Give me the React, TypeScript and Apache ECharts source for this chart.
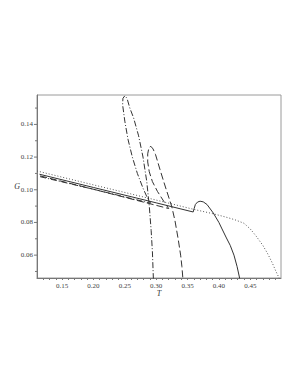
import React, { useEffect, useRef } from "react";
import * as echarts from "echarts";

// Dotted curve
const dottedT = [0.110, 0.200, 0.300, 0.360, 0.390, 0.410, 0.425, 0.440, 0.450, 0.455, 0.460, 0.470, 0.478, 0.485, 0.491, 0.496, 0.499];
const dottedG = [0.1115, 0.1030, 0.0937, 0.0880, 0.0854, 0.0834, 0.0817, 0.0795, 0.0760, 0.0737, 0.0713, 0.0660, 0.0607, 0.0553, 0.0500, 0.0460, 0.0440];

// Solid curve
const solidT = [0.114, 0.200, 0.300, 0.359, 0.3605, 0.3625, 0.366, 0.370, 0.375, 0.381, 0.391, 0.400, 0.405, 0.412, 0.418, 0.424, 0.429, 0.433, 0.434];
const solidG = [0.1095, 0.1014, 0.0920, 0.0864, 0.0885, 0.0910, 0.0925, 0.0930, 0.0926, 0.0910, 0.0858, 0.0800, 0.0760, 0.0705, 0.0660, 0.0600, 0.0530, 0.0460, 0.0440];

// Dashed curve
const dashedT = [0.115, 0.200, 0.320, 0.312, 0.302, 0.294, 0.289, 0.2865, 0.2865, 0.2885, 0.2915, 0.2950, 0.2990, 0.3060, 0.3120, 0.3170, 0.3250, 0.3300, 0.3350, 0.3390, 0.3410, 0.3425, 0.3430];
const dashedG = [0.1085, 0.1003, 0.0885, 0.0930, 0.0990, 0.1050, 0.1110, 0.1170, 0.1220, 0.1258, 0.1266, 0.1250, 0.1215, 0.1125, 0.1050, 0.0990, 0.0895, 0.0810, 0.0700, 0.0600, 0.0530, 0.0460, 0.0440];

// Dash-dot curve
const dashDotT = [0.115, 0.200, 0.291, 0.286, 0.279, 0.270, 0.262, 0.255, 0.250, 0.2465, 0.2470, 0.2500, 0.2535, 0.2580, 0.2640, 0.2720, 0.2790, 0.2850, 0.2890, 0.2920, 0.2940, 0.2955, 0.2960];
const dashDotG = [0.1080, 0.1003, 0.0918, 0.0950, 0.1010, 0.1100, 0.1200, 0.1310, 0.1420, 0.1520, 0.1560, 0.1575, 0.1560, 0.1500, 0.1440, 0.1330, 0.1200, 0.1050, 0.0900, 0.0750, 0.0620, 0.0460, 0.0440];

// Tick labels
const yTickLabels = [0.06, 0.08, 0.10, 0.12, 0.14];
const yMinorTicks = [0.05, 0.07, 0.09, 0.11, 0.13, 0.15];

const xMin = 0.11;
const xMax = 0.499;
const yMin = 0.046;
const yMax = 0.158;

const pair = (t: number[], g: number[]) => t.map((v, i) => [v, g[i]]);

export default function App() {
  const ref = useRef<HTMLDivElement>(null);
  useEffect(() => {
    if (!ref.current) return;
    const chart = echarts.init(ref.current, undefined, { renderer: "svg" });
    const labelFont = { fontFamily: "Liberation Serif", fontSize: 7, color: "#444" };
    const mk = (name: string, data: number[][], type: any, color: string) => ({
      name,
      type: "line",
      data,
      showSymbol: false,
      symbol: "none",
      clip: true,
      lineStyle: { color, width: 1, type },
    });
    chart.setOption({
      animation: false,
      grid: { left: 37, right: 21, top: 95, bottom: 113, show: true, borderColor: "#9a9a9a", borderWidth: 1 },
      xAxis: {
        type: "value",
        min: xMin,
        max: xMax,
        interval: 0.01,
        name: "T",
        nameLocation: "middle",
        nameGap: 10,
        nameTextStyle: { fontFamily: "Liberation Serif", fontStyle: "italic", fontSize: 8, color: "#333" },
        axisLine: { show: true, lineStyle: { color: "#777" } },
        axisTick: { show: true, length: 2, lineStyle: { color: "#777" } },
        splitLine: { show: false },
        axisLabel: {
          ...labelFont,
          margin: 4,
          showMaxLabel: false,
          showMinLabel: false,
          formatter: (v: number) => {
            const k = Math.round(v * 100);
            if (Math.abs(v * 100 - k) > 1e-6 || k % 5 !== 0) return "";
            return (k / 100).toFixed(2);
          },
        },
      },
      yAxis: {
        type: "value",
        min: yMin,
        max: yMax,
        interval: 0.002,
        name: "G",
        nameLocation: "middle",
        nameRotate: 0,
        nameGap: 17,
        nameTextStyle: { fontFamily: "Liberation Serif", fontStyle: "italic", fontSize: 8, color: "#333" },
        axisLine: { show: true, lineStyle: { color: "#777" } },
        axisTick: { show: false },
        splitLine: { show: false },
        axisLabel: { show: false },
      },
      series: [
        mk("dotted", pair(dottedT, dottedG), [1, 2], "#555"),
        mk("solid", pair(solidT, solidG), "solid", "#333"),
        mk("dashed", pair(dashedT, dashedG), [7, 3], "#333"),
        mk("dashdot", pair(dashDotT, dashDotG), [6, 2, 1, 2], "#333"),
      ],
    });
    const axisX = chart.convertToPixel({ xAxisIndex: 0 }, xMin) as number;
    const graphics: any[] = [];
    yTickLabels.forEach((v) => {
      const py = chart.convertToPixel({ yAxisIndex: 0 }, v) as number;
      graphics.push({
        type: "text",
        x: axisX - 4,
        y: py,
        style: {
          text: v.toFixed(2),
          align: "right",
          verticalAlign: "middle",
          fontFamily: "Liberation Serif",
          fontSize: 7,
          fill: "#444",
        },
      });
      graphics.push({
        type: "line",
        shape: { x1: axisX - 3, y1: py, x2: axisX, y2: py },
        style: { stroke: "#777", lineWidth: 1 },
      });
    });
    yMinorTicks.forEach((v) => {
      const py = chart.convertToPixel({ yAxisIndex: 0 }, v) as number;
      graphics.push({
        type: "line",
        shape: { x1: axisX - 2, y1: py, x2: axisX, y2: py },
        style: { stroke: "#777", lineWidth: 1 },
      });
    });
    chart.setOption({ graphic: graphics });
    return () => chart.dispose();
  }, []);
  return (
    <div
      ref={ref}
      style={{ position: "fixed", left: 0, top: 0, width: 302, height: 391, background: "#fff" }}
    />
  );
}
